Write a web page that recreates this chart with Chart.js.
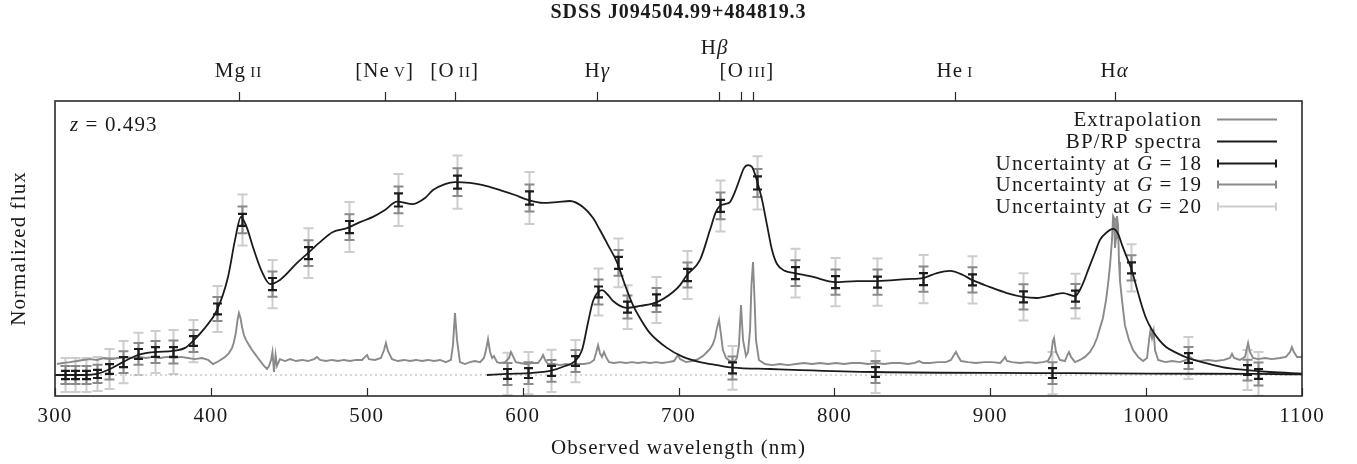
<!DOCTYPE html>
<html>
<head>
<meta charset="utf-8">
<script src="https://cdn.jsdelivr.net/npm/chart.js@4.4.1/dist/chart.umd.min.js"></script>
<style>
  html, body { margin: 0; padding: 0; background: #fff; }
  canvas { display: block; }
</style>
</head>
<body>
<canvas id="spectrum" width="1357" height="464"></canvas>
<script>
// Source and redshift
const objectName = 'SDSS J094504.99+484819.3';
const redshift = 0.493;

// Emission lines (rest-frame nm); a doublet gets one label at its mean
const lineNames = ['Mg II', '[Ne V]', '[O II]', 'Hγ', 'Hβ', '[O III]', 'He I', 'Hα'];
const lineRest = [[279.8], [342.6], [372.7], [434.0], [486.1], [495.9, 500.7], [587.6], [656.3]];

const xTicks = [300, 400, 500, 600, 700, 800, 900, 1000, 1100];

// Observed spectrum (nm, normalized flux)
const specWave = [
  301.3, 305.1, 309.6, 314.1, 318.0, 322.5, 326.9, 331.4, 335.9, 340.4,
  344.9, 349.4, 353.9, 358.4, 362.9, 367.4, 371.9, 376.3, 380.8, 385.3,
  389.8, 394.3, 398.2, 401.4, 405.2, 409.1, 411.6, 413.6, 414.8, 416.1,
  417.1, 418.0, 419.0, 420.0, 421.2, 422.5, 424.5, 426.4, 428.3, 430.2,
  432.2, 434.1, 436.0, 437.3, 438.6, 439.5, 440.5, 441.5, 442.4, 444.3,
  447.6, 450.8, 454.6, 458.5, 462.3, 466.2, 468.1, 470.0, 473.9, 477.7,
  481.6, 485.4, 489.3, 493.1, 497.0, 498.9, 500.2, 501.4, 505.3, 509.1,
  511.1, 512.3, 513.6, 516.2, 520.0, 523.9, 527.7, 531.6, 535.4, 539.3,
  543.1, 547.0, 550.8, 554.0, 555.3, 556.6, 557.9, 559.8, 563.0, 566.2,
  569.4, 572.7, 575.2, 576.5, 577.8, 579.1, 580.4, 581.6, 583.6, 585.5,
  588.7, 591.3, 592.5, 593.8, 595.7, 598.3, 602.2, 606.0, 609.9, 611.8,
  613.1, 614.4, 616.3, 620.1, 624.0, 627.8, 631.7, 635.5, 639.4, 643.2,
  645.8, 647.1, 648.4, 649.6, 650.9, 652.2, 653.5, 655.4, 658.6, 662.5,
  666.3, 670.2, 674.0, 677.9, 681.7, 685.6, 689.4, 693.3, 697.1, 698.4,
  699.7, 701.0, 704.8, 708.7, 712.5, 715.7, 718.3, 720.2, 722.1, 723.4,
  724.7, 726.0, 727.3, 728.5, 730.5, 733.0, 735.6, 737.5, 738.8, 740.1,
  741.4, 743.3, 744.6, 745.9, 746.8, 747.8, 748.8, 749.7, 751.6, 755.5,
  760.0, 765.1, 770.2, 775.4, 780.5, 785.6, 790.8, 795.9, 801.0, 806.2,
  811.3, 816.4, 821.6, 826.7, 831.8, 837.0, 842.1, 847.2, 851.7, 854.3,
  856.8, 861.3, 866.5, 871.6, 874.8, 876.7, 878.0, 879.3, 881.2, 885.7,
  890.9, 896.0, 901.1, 906.3, 908.2, 909.5, 910.7, 913.9, 919.1, 924.2,
  929.3, 933.8, 937.0, 939.0, 940.2, 940.9, 942.2, 944.7, 947.9, 949.2,
  950.5, 951.8, 954.4, 957.6, 960.8, 964.0, 966.6, 968.5, 970.4, 972.3,
  974.3, 975.5, 976.8, 978.1, 978.8, 979.4, 980.0, 980.7, 981.3, 982.0,
  982.6, 983.2, 984.5, 986.4, 989.0, 991.6, 994.8, 998.0, 1000.6, 1001.9,
  1002.8, 1003.8, 1004.8, 1005.7, 1007.7, 1012.2, 1016.7, 1021.7, 1025.6, 1028.1,
  1030.7, 1034.5, 1039.7, 1044.8, 1050.0, 1053.8, 1055.1, 1056.4, 1060.2, 1063.4,
  1065.4, 1066.6, 1068.6, 1071.8, 1076.3, 1080.7, 1085.9, 1089.7, 1092.3, 1093.5,
  1094.8, 1096.8, 1100.0
];
const specFlux = [
  0.040, 0.044, 0.047, 0.051, 0.055, 0.058, 0.055, 0.062, 0.058, 0.062,
  0.066, 0.062, 0.066, 0.062, 0.066, 0.062, 0.066, 0.062, 0.066, 0.062,
  0.058, 0.062, 0.055, 0.040, 0.051, 0.066, 0.080, 0.099, 0.120, 0.157,
  0.201, 0.226, 0.208, 0.175, 0.146, 0.128, 0.109, 0.091, 0.077, 0.062,
  0.047, 0.033, 0.022, 0.033, 0.055, 0.084, 0.011, 0.073, 0.033, 0.058,
  0.051, 0.058, 0.051, 0.055, 0.051, 0.058, 0.066, 0.055, 0.051, 0.055,
  0.051, 0.055, 0.051, 0.055, 0.055, 0.066, 0.073, 0.058, 0.055, 0.062,
  0.091, 0.117, 0.088, 0.058, 0.051, 0.055, 0.051, 0.055, 0.051, 0.055,
  0.051, 0.055, 0.047, 0.055, 0.109, 0.226, 0.128, 0.047, 0.040, 0.047,
  0.051, 0.047, 0.062, 0.091, 0.131, 0.084, 0.062, 0.069, 0.047, 0.044,
  0.047, 0.062, 0.084, 0.069, 0.047, 0.044, 0.040, 0.044, 0.044, 0.058,
  0.073, 0.055, 0.040, 0.040, 0.036, 0.040, 0.036, 0.040, 0.040, 0.044,
  0.055, 0.080, 0.109, 0.080, 0.066, 0.084, 0.066, 0.047, 0.044, 0.047,
  0.044, 0.047, 0.044, 0.047, 0.044, 0.047, 0.044, 0.047, 0.051, 0.062,
  0.073, 0.058, 0.047, 0.051, 0.058, 0.069, 0.084, 0.095, 0.113, 0.135,
  0.172, 0.201, 0.146, 0.091, 0.062, 0.051, 0.047, 0.062, 0.109, 0.255,
  0.128, 0.069, 0.084, 0.164, 0.328, 0.412, 0.274, 0.128, 0.055, 0.040,
  0.036, 0.040, 0.036, 0.040, 0.044, 0.040, 0.044, 0.040, 0.044, 0.040,
  0.044, 0.044, 0.040, 0.044, 0.040, 0.044, 0.044, 0.040, 0.044, 0.051,
  0.044, 0.044, 0.047, 0.047, 0.055, 0.073, 0.084, 0.069, 0.051, 0.047,
  0.044, 0.047, 0.047, 0.044, 0.055, 0.066, 0.051, 0.047, 0.044, 0.047,
  0.044, 0.047, 0.051, 0.073, 0.124, 0.135, 0.084, 0.055, 0.051, 0.069,
  0.084, 0.066, 0.047, 0.055, 0.066, 0.084, 0.109, 0.135, 0.172, 0.208,
  0.274, 0.328, 0.398, 0.493, 0.580, 0.573, 0.464, 0.500, 0.580, 0.547,
  0.412, 0.347, 0.274, 0.182, 0.128, 0.091, 0.066, 0.051, 0.062, 0.128,
  0.164, 0.135, 0.161, 0.091, 0.055, 0.047, 0.051, 0.047, 0.055, 0.066,
  0.055, 0.051, 0.055, 0.051, 0.055, 0.062, 0.077, 0.062, 0.055, 0.066,
  0.117, 0.084, 0.062, 0.058, 0.062, 0.058, 0.062, 0.066, 0.084, 0.102,
  0.084, 0.066, 0.066
];

// BP spectrum
const bpWave = [
  300.0, 306.4, 319.9, 326.9, 334.6, 343.6, 353.2, 364.2, 375.7, 383.4,
  388.5, 396.2, 403.9, 411.0, 415.5, 419.3, 423.2, 427.0, 432.8, 437.9,
  444.3, 455.3, 462.3, 470.0, 478.3, 487.3, 495.7, 504.0, 511.7, 519.4,
  529.7, 537.4, 542.5, 550.2, 556.6, 566.2, 574.6, 585.5, 595.1, 603.4,
  613.1, 622.1, 630.4, 638.7, 645.2, 649.6, 654.8, 660.5, 665.7, 670.8,
  676.0, 681.7, 692.6, 702.9, 713.8, 724.7, 735.0, 758.7, 778.0, 826.1,
  939.6, 1002.5, 1071.8, 1100.0
];
const bpFlux = [
  0.000, 0.000, 0.000, 0.004, 0.020, 0.047, 0.073, 0.084, 0.088, 0.099,
  0.124, 0.172, 0.237, 0.358, 0.493, 0.577, 0.536, 0.467, 0.376, 0.332,
  0.347, 0.409, 0.445, 0.485, 0.522, 0.536, 0.558, 0.577, 0.602, 0.633,
  0.624, 0.646, 0.675, 0.697, 0.704, 0.701, 0.693, 0.675, 0.657, 0.639,
  0.628, 0.631, 0.635, 0.613, 0.573, 0.529, 0.474, 0.412, 0.328, 0.255,
  0.201, 0.153, 0.099, 0.066, 0.047, 0.036, 0.027, 0.022, 0.018, 0.011,
  0.007, 0.005, 0.004, 0.002
];

// RP spectrum
const rpWave = [
  577.1, 590.0, 603.4, 618.2, 627.2, 633.6, 638.1, 641.9, 645.2, 650.9,
  654.8, 658.0, 666.9, 675.3, 686.2, 696.5, 701.0, 705.4, 713.8, 720.2,
  724.0, 726.6, 729.8, 733.0, 736.2, 739.5, 742.0, 744.6, 747.2, 750.4,
  753.6, 756.8, 760.0, 763.2, 768.3, 774.7, 786.3, 800.4, 814.5, 827.4,
  846.6, 856.9, 865.8, 874.2, 882.5, 888.3, 899.8, 910.7, 921.0, 930.0,
  940.3, 946.7, 954.4, 959.0, 963.5, 967.3, 970.4, 975.0, 978.8, 982.0,
  984.6, 987.8, 990.3, 993.5, 996.7, 999.9, 1003.8, 1008.3, 1012.8, 1019.8,
  1026.9, 1037.8, 1048.7, 1064.7, 1079.5, 1100.0
];
const rpFlux = [
  0.000, 0.004, 0.007, 0.016, 0.033, 0.051, 0.091, 0.190, 0.270, 0.310,
  0.292, 0.270, 0.245, 0.252, 0.266, 0.303, 0.328, 0.365, 0.420, 0.529,
  0.595, 0.617, 0.624, 0.631, 0.668, 0.719, 0.755, 0.766, 0.759, 0.708,
  0.639, 0.547, 0.456, 0.405, 0.380, 0.372, 0.358, 0.339, 0.343, 0.343,
  0.350, 0.354, 0.372, 0.380, 0.365, 0.347, 0.321, 0.299, 0.285, 0.281,
  0.292, 0.299, 0.288, 0.328, 0.394, 0.449, 0.493, 0.522, 0.533, 0.515,
  0.474, 0.427, 0.391, 0.328, 0.263, 0.208, 0.164, 0.128, 0.102, 0.080,
  0.062, 0.044, 0.029, 0.018, 0.011, 0.005
];

// Sampled BP points with 1-sigma uncertainty at G = 18, 19, 20
const gMags = [18, 19, 20];
const bpSampleWave = [306.4, 312.8, 319.9, 326.9, 334.6, 343.6, 353.2, 364.2, 375.7, 388.5, 403.9, 420.0, 439.2, 462.3, 488.6, 520.0, 557.9, 604.1, 661.2, 734.3, 826.1, 939.6, 1071.8];
const bpSampleFlux = [0.000, 0.000, 0.000, 0.004, 0.022, 0.047, 0.077, 0.084, 0.084, 0.124, 0.241, 0.566, 0.332, 0.445, 0.540, 0.639, 0.704, 0.646, 0.409, 0.026, 0.011, 0.007, 0.004];
const bpErrG18 = [0.015, 0.015, 0.015, 0.015, 0.018, 0.018, 0.018, 0.018, 0.018, 0.018, 0.020, 0.022, 0.022, 0.022, 0.022, 0.024, 0.024, 0.024, 0.022, 0.020, 0.018, 0.018, 0.018];
const bpErrG19 = [0.033, 0.033, 0.033, 0.033, 0.038, 0.040, 0.040, 0.040, 0.042, 0.040, 0.044, 0.049, 0.046, 0.047, 0.047, 0.049, 0.051, 0.049, 0.047, 0.042, 0.040, 0.040, 0.042];
const bpErrG20 = [0.062, 0.062, 0.062, 0.062, 0.073, 0.077, 0.077, 0.077, 0.080, 0.077, 0.084, 0.093, 0.088, 0.091, 0.091, 0.095, 0.097, 0.095, 0.089, 0.080, 0.077, 0.077, 0.080];

// Sampled RP points
const rpSampleWave = [590.0, 603.4, 618.2, 633.6, 648.4, 666.9, 685.6, 705.4, 726.6, 750.4, 774.7, 800.4, 827.4, 856.9, 888.3, 921.0, 954.4, 990.3, 1026.9, 1064.7];
const rpSampleFlux = [0.004, 0.007, 0.015, 0.051, 0.303, 0.248, 0.274, 0.365, 0.617, 0.701, 0.372, 0.339, 0.339, 0.350, 0.347, 0.285, 0.288, 0.391, 0.062, 0.018];
const rpErrG18 = [0.018, 0.018, 0.018, 0.018, 0.020, 0.020, 0.020, 0.022, 0.022, 0.024, 0.022, 0.022, 0.020, 0.022, 0.020, 0.020, 0.020, 0.020, 0.018, 0.018];
const rpErrG19 = [0.040, 0.040, 0.040, 0.040, 0.046, 0.042, 0.044, 0.046, 0.049, 0.051, 0.047, 0.046, 0.046, 0.046, 0.046, 0.046, 0.044, 0.046, 0.040, 0.038];
const rpErrG20 = [0.077, 0.077, 0.077, 0.077, 0.086, 0.080, 0.084, 0.088, 0.093, 0.097, 0.089, 0.088, 0.086, 0.088, 0.086, 0.086, 0.082, 0.086, 0.077, 0.073];

const FAMILY = '"Liberation Serif", "DejaVu Serif", serif';
const ROMAN = '21px ' + FAMILY;
const SMALL = '15px ' + FAMILY;
const ITALIC = 'italic 21px ' + FAMILY;
const SPACING = '1.1px';

const INK = '#1b1b1b';
const GREY = '#8a8a8a';
const LIGHT = '#cdcdcd';

const toPoints = (xs, ys) => xs.map((x, i) => ({ x, y: ys[i] }));

// draws a row of [text, font] pieces on one baseline; y is the visual middle
function richText(ctx, parts, x, y, align) {
  ctx.letterSpacing = SPACING;
  let total = 0;
  parts.forEach(([t, f]) => { ctx.font = f; total += ctx.measureText(t).width; });
  let cx = align === 'center' ? x - total / 2 : align === 'right' ? x - total : x;
  ctx.textAlign = 'left';
  ctx.textBaseline = 'alphabetic';
  parts.forEach(([t, f]) => {
    ctx.font = f;
    ctx.fillText(t, cx, y + 7);
    cx += ctx.measureText(t).width;
  });
  return total;
}

// "Mg II" -> roman element + small-caps ion stage; "Hβ" -> H + italic greek
function lineParts(name) {
  const m = name.match(/^(\[?)([A-Z][a-z]?)(?: ([IVX]+))?(\]?)$/);
  if (m) {
    const parts = [[m[1] + m[2], ROMAN]];
    if (m[3]) parts.push(['\u2009' + m[3], SMALL]);
    if (m[4]) parts.push([m[4], ROMAN]);
    return parts;
  }
  return [[name[0], ROMAN], [name.slice(1), ITALIC]];
}

function drawBars(chart, wave, flux, err, color, capHalf, width) {
  const { ctx, chartArea: a, scales: { x, y } } = chart;
  ctx.save();
  ctx.beginPath();
  ctx.rect(a.left, a.top, a.right - a.left, a.bottom - a.top);
  ctx.clip();
  ctx.strokeStyle = color;
  ctx.lineWidth = width;
  wave.forEach((w, i) => {
    const px = Math.round(x.getPixelForValue(w)) + 0.5;
    const top = y.getPixelForValue(flux[i] + err[i]);
    const bot = y.getPixelForValue(flux[i] - err[i]);
    ctx.beginPath();
    ctx.moveTo(px, top); ctx.lineTo(px, bot);
    ctx.moveTo(px - capHalf, top); ctx.lineTo(px + capHalf, top);
    ctx.moveTo(px - capHalf, bot); ctx.lineTo(px + capHalf, bot);
    ctx.stroke();
  });
  ctx.restore();
}

const errorBars = {
  id: 'errorBars',
  beforeDatasetsDraw(chart) {
    drawBars(chart, bpSampleWave, bpSampleFlux, bpErrG20, LIGHT, 5, 2);
    drawBars(chart, rpSampleWave, rpSampleFlux, rpErrG20, LIGHT, 5, 2);
    drawBars(chart, bpSampleWave, bpSampleFlux, bpErrG19, GREY, 5, 2);
    drawBars(chart, rpSampleWave, rpSampleFlux, rpErrG19, GREY, 5, 2);
  },
  afterDatasetsDraw(chart) {
    drawBars(chart, bpSampleWave, bpSampleFlux, bpErrG18, INK, 4.5, 2.2);
    drawBars(chart, rpSampleWave, rpSampleFlux, rpErrG18, INK, 4.5, 2.2);
  }
};

const frame = {
  id: 'frame',
  afterDraw(chart) {
    const { ctx, chartArea: a, scales: { x } } = chart;
    ctx.save();
    ctx.fillStyle = INK;
    ctx.strokeStyle = '#2a2a2a';

    // box and inward ticks
    ctx.lineWidth = 1.6;
    ctx.strokeRect(a.left, a.top, a.right - a.left, a.bottom - a.top);
    ctx.lineWidth = 1.2;
    ctx.beginPath();
    xTicks.forEach(t => {
      const px = Math.round(x.getPixelForValue(t)) + 0.5;
      ctx.moveTo(px, a.bottom); ctx.lineTo(px, a.bottom - 8);
    });
    ctx.stroke();
    xTicks.forEach(t => richText(ctx, [[String(t), ROMAN]], x.getPixelForValue(t), a.bottom + 19, 'center'));

    // axis titles
    richText(ctx, [['Observed wavelength (nm)', ROMAN]], (a.left + a.right) / 2, a.bottom + 51, 'center');
    ctx.save();
    ctx.translate(18, (a.top + a.bottom) / 2);
    ctx.rotate(-Math.PI / 2);
    richText(ctx, [['Normalized flux', ROMAN]], 0, 0, 'center');
    ctx.restore();

    // title
    ctx.letterSpacing = '0.9px';
    ctx.font = 'bold 20px ' + FAMILY;
    ctx.textAlign = 'center';
    ctx.textBaseline = 'middle';
    ctx.fillText(objectName, (a.left + a.right) / 2, 13);

    // emission line markers on the top edge
    ctx.lineWidth = 1.2;
    ctx.beginPath();
    lineRest.forEach(group => group.forEach(r => {
      const px = Math.round(x.getPixelForValue(r * (1 + redshift))) + 0.5;
      ctx.moveTo(px, a.top); ctx.lineTo(px, a.top - 9);
    }));
    ctx.stroke();

    const labels = lineNames.map((name, i) => {
      const g = lineRest[i];
      const obs = g.reduce((s, r) => s + r, 0) / g.length * (1 + redshift);
      const parts = lineParts(name);
      ctx.letterSpacing = SPACING;
      const w = parts.reduce((s, [t, f]) => { ctx.font = f; return s + ctx.measureText(t).width; }, 0);
      return { parts, cx: x.getPixelForValue(obs), w };
    });
    labels.forEach((lb, i) => {
      const next = labels[i + 1];
      const crowded = next && lb.cx + lb.w / 2 > next.cx - next.w / 2;
      richText(ctx, lb.parts, lb.cx - (crowded ? 4 : 0), crowded ? 47 : 70, 'center');
    });

    // redshift note
    richText(ctx, [['z', ITALIC], [' = ' + redshift.toFixed(3), ROMAN]], a.left + 15, a.top + 23, 'left');

    // legend
    const textRight = 1202, s0 = 1217, s1 = 1277;
    const rows = [
      { parts: [['Extrapolation', ROMAN]], color: GREY, caps: false },
      { parts: [['BP/RP spectra', ROMAN]], color: INK, caps: false },
      ...gMags.map((g, i) => ({
        parts: [['Uncertainty at ', ROMAN], ['G', ITALIC], [' = ' + g, ROMAN]],
        color: [INK, GREY, LIGHT][i], caps: true
      }))
    ];
    rows.forEach((row, i) => {
      const yy = a.top + 18 + i * 21.8;
      ctx.fillStyle = INK;
      richText(ctx, row.parts, textRight, yy, 'right');
      ctx.strokeStyle = row.color;
      ctx.lineWidth = 2;
      ctx.beginPath();
      const ly = Math.round(yy) + 0.5;
      ctx.moveTo(s0, ly); ctx.lineTo(s1, ly);
      if (row.caps) {
        ctx.moveTo(s0 + 1, ly - 4); ctx.lineTo(s0 + 1, ly + 4);
        ctx.moveTo(s1 - 1, ly - 4); ctx.lineTo(s1 - 1, ly + 4);
      }
      ctx.stroke();
    });
    ctx.restore();
  }
};

new Chart(document.getElementById('spectrum'), {
  type: 'line',
  data: {
    datasets: [
      {
        label: 'BP',
        data: toPoints(bpWave, bpFlux),
        borderColor: INK,
        borderWidth: 1.8,
        cubicInterpolationMode: 'monotone',
        order: 1
      },
      {
        label: 'RP',
        data: toPoints(rpWave, rpFlux),
        borderColor: INK,
        borderWidth: 1.8,
        cubicInterpolationMode: 'monotone',
        order: 1
      },
      {
        label: 'Extrapolation',
        data: toPoints(specWave, specFlux),
        borderColor: GREY,
        borderWidth: 1.9,
        tension: 0,
        order: 2
      },
      {
        label: 'zero',
        data: [{ x: 300, y: 0 }, { x: 1100, y: 0 }],
        borderColor: '#9a9a9a',
        borderWidth: 0.8,
        borderDash: [2, 3],
        order: 3
      }
    ]
  },
  options: {
    responsive: false,
    animation: false,
    devicePixelRatio: 1,
    layout: { padding: { left: 55, right: 55, top: 101, bottom: 68 } },
    scales: {
      x: { type: 'linear', min: 300, max: 1100, display: false },
      y: { type: 'linear', min: -0.0766, max: 1.0, display: false }
    },
    elements: { point: { radius: 0 } },
    plugins: {
      legend: { display: false },
      tooltip: { enabled: false }
    }
  },
  plugins: [errorBars, frame]
});
</script>
</body>
</html>
